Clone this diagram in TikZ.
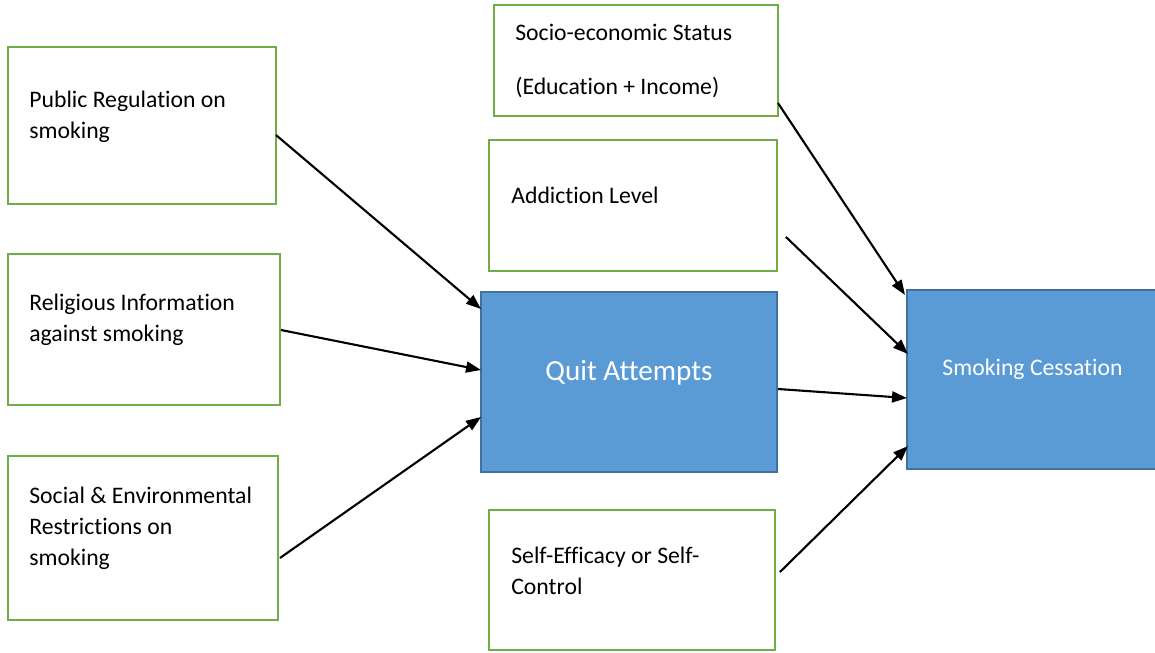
\documentclass[tikz,border=0pt]{standalone}
\usepackage{fontspec}
\setmainfont{Carlito}[Ligatures=NoCommon]
\usetikzlibrary{arrows.meta,calc}

\definecolor{factorgreen}{HTML}{70AD47}
\definecolor{outcomeblue}{HTML}{5B9BD5}
\definecolor{outcomeedge}{HTML}{41719C}

\tikzset{
  factor/.style={rectangle, draw=factorgreen, line width=1.2pt, outer sep=0pt, anchor=north west},
  outcome/.style={rectangle, draw=outcomeedge, fill=outcomeblue, line width=0.9pt, outer sep=0pt, anchor=north west, text=white, text depth=13.6pt},
  boxtext/.style={anchor=north west, align=left, inner sep=0pt, font=\fontsize{13.5}{17.6}\selectfont},
}

\begin{document}
\begin{tikzpicture}[x=0.02cm, y=-0.02cm, >={Triangle[length=0.3cm, width=0.22cm]}]
    \useasboundingbox (0,0) rectangle (1155,652);

    % Left factors
    \node [factor, minimum width=5.36cm, minimum height=3.14cm,
           label={[boxtext, xshift=0.42cm, yshift=-0.88cm]north west:{Public Regulation on\\smoking}}] (pub) at (8,47) {};
    \node [factor, minimum width=5.44cm, minimum height=3.02cm,
           label={[boxtext, xshift=0.42cm, yshift=-0.80cm]north west:{Religious Information\\against smoking}}] (rel) at (8,254) {};
    \node [factor, minimum width=5.40cm, minimum height=3.28cm,
           label={[boxtext, xshift=0.42cm, yshift=-0.62cm]north west:{Social \& Environmental\\Restrictions on\\smoking}}] (soc) at (8,456) {};

    % Middle column
    \node [factor, minimum width=5.68cm, minimum height=2.22cm,
           label={[boxtext, xshift=0.42cm, yshift=-0.38cm]north west:{Socio-economic Status\\[0.46cm](Education + Income)}}] (ses) at (494,5) {};
    \node [factor, minimum width=5.76cm, minimum height=2.62cm,
           label={[boxtext, xshift=0.44cm, yshift=-0.94cm]north west:{Addiction Level}}] (add) at (489,140) {};
    \node [outcome, minimum width=5.92cm, minimum height=3.60cm, font=\fontsize{16.6}{20}\selectfont] (quit) at (481,292) {Quit Attempts};
    \node [factor, minimum width=5.72cm, minimum height=2.80cm,
           label={[boxtext, xshift=0.44cm, yshift=-0.74cm]north west:{Self-Efficacy or Self-\\Control}}] (self) at (489,510) {};

    % Outcome
    \node [outcome, minimum width=5.02cm, minimum height=3.58cm, font=\fontsize{13.5}{17}\selectfont] (cess) at (907,290) {Smoking Cessation};

    % Arrows
    \draw [->, line width=1.2pt] ($(pub.north east)+(0,88)$) -- ($(quit.north west)+(0,17)$);
    \draw [->, line width=1.2pt] ($(rel.north east)+(1,76)$) -- ($(quit.north west)+(0,78)$);
    \draw [->, line width=1.2pt] ($(soc.north east)+(2,102)$) -- ($(quit.north west)+(0,125)$);
    \draw [->, line width=1.2pt] ($(ses.south east)+(0,-13)$) -- ($(cess.north west)+(-2,5)$);
    \draw [->, line width=1.2pt] ($(add.north east)+(9,97)$) -- ($(cess.north west)+(1,64)$);
    \draw [->, line width=1.2pt] ($(quit.north east)+(1,97)$) -- ($(cess.north west)+(0,108)$);
    \draw [->, line width=1.2pt] ($(self.north east)+(5,62)$) -- ($(cess.north west)+(1,156)$);
\end{tikzpicture}
\end{document}
